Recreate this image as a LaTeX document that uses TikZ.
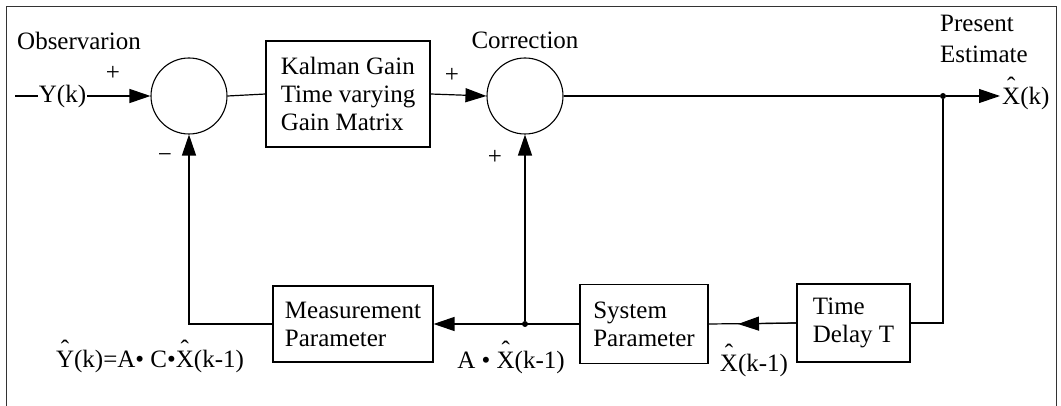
\documentclass[tikz,border=0pt]{standalone}
\usepackage{fontspec}
\setmainfont{Liberation Serif}
\usetikzlibrary{arrows.meta}
\newcommand{\hx}[1]{\leavevmode\hbox{\ooalign{#1\cr\hidewidth\raisebox{10pt}{ˆ}\hidewidth\cr}}}
\begin{document}
\begin{tikzpicture}[x=1pt,y=-1pt,
  every node/.style={font=\fontsize{25}{28}\selectfont},
  conn/.style={line width=1.2pt},
  arr/.style={conn,-{Triangle[length=21pt,width=14pt]}},
  blk/.style={draw,line width=1.1pt,align=left,inner sep=0pt},
  sumc/.style={draw,circle,line width=1.1pt,minimum size=76pt,inner sep=0pt},
  dot/.style={circle,fill,inner sep=0pt,minimum size=6pt},
  lbl/.style={inner sep=0pt}]
\useasboundingbox (0,0) rectangle (1061,406);
% frame
\draw[line width=0.9pt,black!80] (6,406) -- (6,6) -- (1056,6) -- (1056,406);
% nodes
\node[sumc] (s1) at (189,96) {};
\node[sumc] (s2) at (525,96) {};
\node[blk,minimum width=164pt,minimum height=106pt] (kal) at (348,94) {Kalman Gain\\Time varying\\Gain Matrix};
\node[blk,minimum width=160pt,minimum height=76pt] (meas) at (353,324) {Measurement\\Parameter};
\node[blk,minimum width=128pt,minimum height=79pt] (sys) at (644,324) {System\\Parameter};
\node[blk,minimum width=113pt,minimum height=78pt] (del) at (853.5,323) {Time\\Delay T};
\node[inner sep=1pt] (yk) at (62.5,96) {Y(k)};
\coordinate (in) at (15,96);
\coordinate (out) at (1000,96);
\node[dot] (j1) at (943,96) {};
\node[dot] (j2) at (525,324) {};
\coordinate (tip) at (738,324);
% connectors
\draw[conn] (in) -- (yk.west);
\draw[arr] (yk.east) -- (s1.west);
\draw[conn] (s1.east) -- (kal.west);
\draw[arr] (kal.east) -- (s2.west);
\draw[conn] (s2.east) -- (j1);
\draw[arr] (j1) -- (out);
\draw[conn] (j1) |- (del.east);
\draw[conn] (del.west) -- (sys.east);
\draw[arr] (del.west) -- (tip);
\draw[arr] (sys.west) -- (meas.east);
\draw[arr] (j2) -- (s2.south);
\draw[arr] (meas.west) -| (s1.south);
% labels
\node[lbl,anchor=base west] (obs) at (17,50) {Observarion};
\node[lbl] (p1) at (113,73) {+};
\node[lbl] (m1) at (165,158) {−};
\node[lbl,anchor=base] (cor) at (525,49) {Correction};
\node[lbl] (p2) at (452,75) {+};
\node[lbl] (p3) at (495,157) {+};
\node[lbl,anchor=base west] (pres) at (940,32) {Present};
\node[lbl,anchor=base west] (est) at (940,63) {Estimate};
\node[lbl,anchor=base west] (xk) at (1002,105) {\hx{X}(k)};
\node[lbl,anchor=base] (xk1) at (754,371) {\hx{X}(k-1)};
\node[lbl,anchor=base] (axk) at (511,368) {A • \hx{X}(k-1)};
\node[lbl,anchor=base] (yhat) at (150,367) {\hx{Y}(k)=A• C•\hx{X}(k-1)};
\end{tikzpicture}
\end{document}
